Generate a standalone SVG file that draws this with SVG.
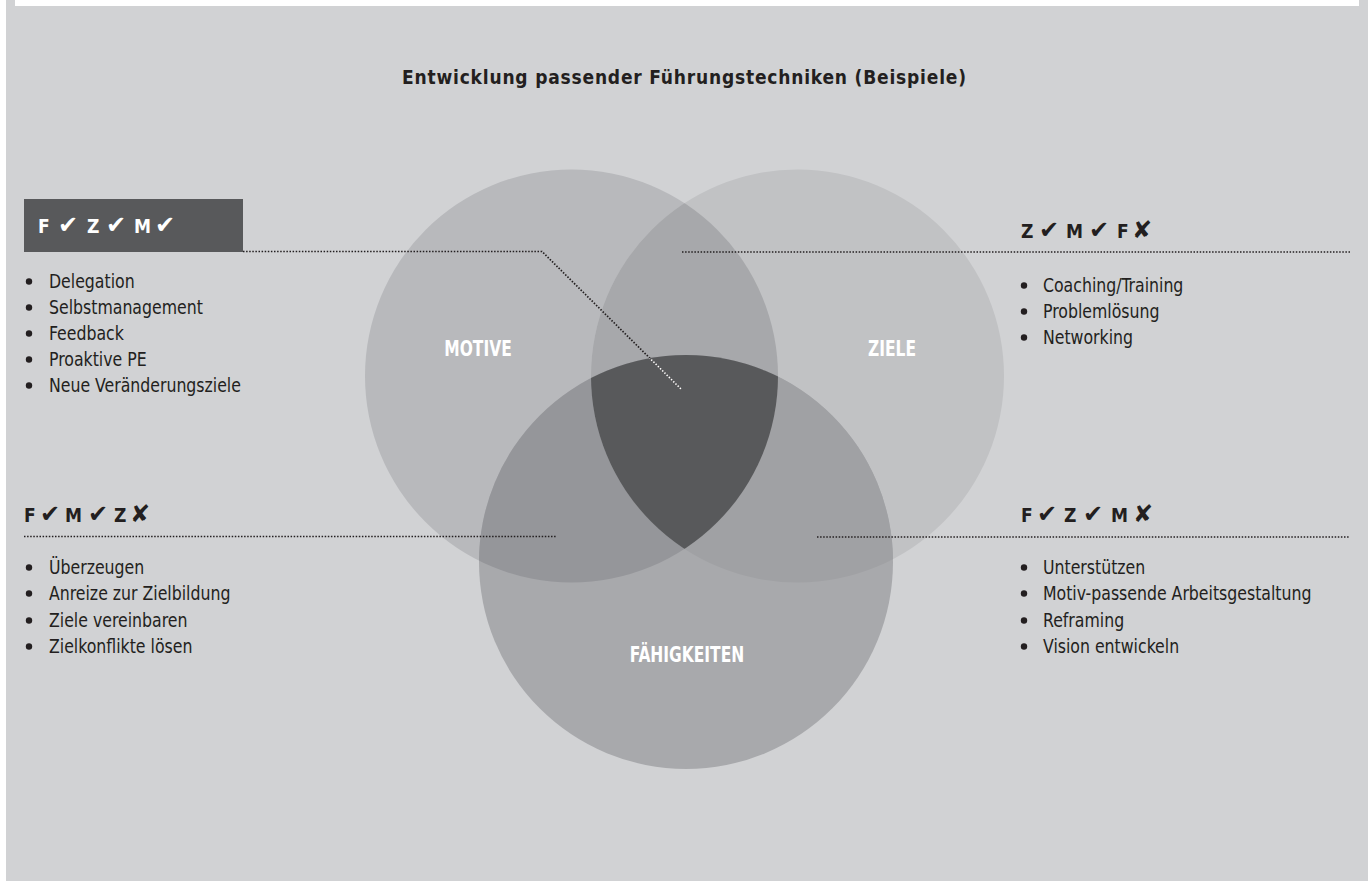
<svg xmlns="http://www.w3.org/2000/svg" width="1370" height="881" viewBox="0 0 1370 881">
<style>
.t{font-family:"DejaVu Sans Condensed","DejaVu Sans",sans-serif;font-size:20px;fill:#231f20}
.b{font-family:"DejaVu Sans Condensed","DejaVu Sans",sans-serif;font-size:19px;font-weight:bold;fill:#231f20}
.w{fill:#ffffff}
.sym{font-family:"DejaVu Sans",sans-serif;font-size:24px;font-weight:bold}
.lbl{font-family:"DejaVu Sans Condensed","DejaVu Sans",sans-serif;font-size:21px;font-weight:bold;fill:#ffffff;text-anchor:middle}
.dot{fill:none;stroke:#231f20;stroke-width:1.7;stroke-dasharray:1.5 1.6}
.dotw{fill:none;stroke:#ffffff;stroke-width:1.7;stroke-dasharray:1.5 1.6}
.bul{fill:#231f20}
</style>
<defs>
<clipPath id="cM"><circle cx="571.5" cy="376" r="206.5"/></clipPath>
<clipPath id="cZ"><circle cx="797.5" cy="376" r="206.5"/></clipPath>
<clipPath id="cF"><circle cx="686" cy="562" r="207"/></clipPath>
</defs>
<rect x="0" y="0" width="1370" height="881" fill="#ffffff"/>
<rect x="6" y="0" width="1362" height="881" fill="#d1d2d4"/>
<rect x="15" y="0" width="1344" height="6" fill="#ffffff"/>

<text id="title" class="b" x="684" y="84" text-anchor="middle" textLength="564" lengthAdjust="spacing">Entwicklung passender Führungstechniken (Beispiele)</text>

<g id="motive">
<circle cx="571.5" cy="376" r="206.5" fill="#b8b9bc"/>
</g>
<g id="ziele">
<circle cx="797.5" cy="376" r="206.5" fill="#c1c2c4"/>
</g>
<g id="faehigkeiten">
<circle cx="686" cy="562" r="207" fill="#a8a9ac"/>
</g>
<g id="overlaps">
<g clip-path="url(#cM)"><circle cx="797.5" cy="376" r="206.5" fill="#a7a8ab"/></g>
<g clip-path="url(#cM)"><circle cx="686" cy="562" r="207" fill="#95969a"/></g>
<g clip-path="url(#cZ)"><circle cx="686" cy="562" r="207" fill="#a0a1a4"/></g>
<g clip-path="url(#cM)"><g clip-path="url(#cZ)"><circle cx="686" cy="562" r="207" fill="#58595b"/></g></g>
</g>
<g id="labels">
<g transform="translate(478 356) scale(0.82 1)"><text class="lbl" x="0" y="0">MOTIVE</text></g>
<g transform="translate(892 356) scale(0.82 1)"><text class="lbl" x="0" y="0">ZIELE</text></g>
<g transform="translate(687 662) scale(0.82 1)"><text class="lbl" x="0" y="0">FÄHIGKEITEN</text></g>
</g>

<g id="connectors">
<path class="dot" d="M243,251.5 H542 L682,390"/>
<g clip-path="url(#cM)"><g clip-path="url(#cZ)"><g clip-path="url(#cF)"><path class="dotw" d="M243,251.5 H542 L682,390"/></g></g></g>
<path class="dot" d="M682,252 H1350"/>
<path class="dot" d="M24,536.5 H557"/>
<path class="dot" d="M817,537 H1350"/>
</g>

<g id="fzm-all">
<rect x="24" y="199" width="219" height="53" fill="#58595b"/>
<text class="b w" y="233"><tspan x="38">F</tspan><tspan class="sym" x="58">✔</tspan><tspan x="87">Z</tspan><tspan class="sym" x="106">✔</tspan><tspan x="134">M</tspan><tspan class="sym" x="155">✔</tspan></text>
<circle class="bul" cx="29" cy="281.5" r="3.2"/>
<circle class="bul" cx="29" cy="307.5" r="3.2"/>
<circle class="bul" cx="29" cy="333.5" r="3.2"/>
<circle class="bul" cx="29" cy="359.5" r="3.2"/>
<circle class="bul" cx="29" cy="385.5" r="3.2"/>
<g transform="translate(49 0) scale(0.875 1)">
<text class="t" x="0" y="288">Delegation</text>
<text class="t" x="0" y="314">Selbstmanagement</text>
<text class="t" x="0" y="340">Feedback</text>
<text class="t" x="0" y="366">Proaktive PE</text>
<text class="t" x="0" y="392">Neue Veränderungsziele</text>
</g>
</g>

<g id="zm-not-f">
<text class="b" y="238"><tspan x="1021">Z</tspan><tspan class="sym" x="1039">✔</tspan><tspan x="1066">M</tspan><tspan class="sym" x="1089">✔</tspan><tspan x="1117">F</tspan><tspan class="sym" x="1132">✘</tspan></text>
<circle class="bul" cx="1024" cy="285.5" r="3.2"/>
<circle class="bul" cx="1024" cy="311.5" r="3.2"/>
<circle class="bul" cx="1024" cy="337.5" r="3.2"/>
<g transform="translate(1043 0) scale(0.875 1)">
<text class="t" x="0" y="292">Coaching/Training</text>
<text class="t" x="0" y="318">Problemlösung</text>
<text class="t" x="0" y="344">Networking</text>
</g>
</g>

<g id="fm-not-z">
<text class="b" y="522"><tspan x="24">F</tspan><tspan class="sym" x="40">✔</tspan><tspan x="65">M</tspan><tspan class="sym" x="88">✔</tspan><tspan x="114">Z</tspan><tspan class="sym" x="130">✘</tspan></text>
<circle class="bul" cx="29" cy="567.5" r="3.2"/>
<circle class="bul" cx="29" cy="593.5" r="3.2"/>
<circle class="bul" cx="29" cy="620.5" r="3.2"/>
<circle class="bul" cx="29" cy="646.5" r="3.2"/>
<g transform="translate(49 0) scale(0.875 1)">
<text class="t" x="0" y="574">Überzeugen</text>
<text class="t" x="0" y="600">Anreize zur Zielbildung</text>
<text class="t" x="0" y="627">Ziele vereinbaren</text>
<text class="t" x="0" y="653">Zielkonflikte lösen</text>
</g>
</g>

<g id="fz-not-m">
<text class="b" y="522"><tspan x="1021">F</tspan><tspan class="sym" x="1037">✔</tspan><tspan x="1064">Z</tspan><tspan class="sym" x="1083">✔</tspan><tspan x="1111">M</tspan><tspan class="sym" x="1133">✘</tspan></text>
<circle class="bul" cx="1024" cy="567.5" r="3.2"/>
<circle class="bul" cx="1024" cy="593.5" r="3.2"/>
<circle class="bul" cx="1024" cy="620.5" r="3.2"/>
<circle class="bul" cx="1024" cy="646.5" r="3.2"/>
<g transform="translate(1043 0) scale(0.875 1)">
<text class="t" x="0" y="574">Unterstützen</text>
<text class="t" x="0" y="600">Motiv-passende Arbeitsgestaltung</text>
<text class="t" x="0" y="627">Reframing</text>
<text class="t" x="0" y="653">Vision entwickeln</text>
</g>
</g>
</svg>
